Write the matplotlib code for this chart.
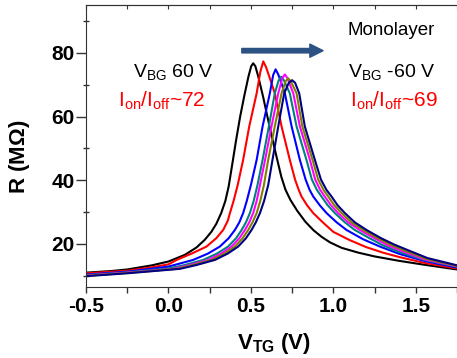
import matplotlib
matplotlib.use('Agg')
import matplotlib.pyplot as plt
from matplotlib.ticker import MultipleLocator

plt.rcParams['font.family'] = 'Liberation Sans'
plt.rcParams['mathtext.fontset'] = 'custom'
plt.rcParams['mathtext.rm'] = 'Liberation Sans'
plt.rcParams['mathtext.bf'] = 'Liberation Sans:bold'
plt.rcParams['axes.unicode_minus'] = False

# R (MOhm) vs top gate voltage, one trace per back gate voltage (60 V ... -60 V)
v_black = [-0.5, -0.35, -0.25, -0.1, 0.0, 0.1, 0.17, 0.22, 0.26, 0.29, 0.32, 0.345, 0.365,
           0.387, 0.41, 0.435, 0.46, 0.485, 0.502, 0.514, 0.527, 0.545, 0.575, 0.60, 0.63,
           0.66, 0.685, 0.71, 0.74, 0.78, 0.83, 0.88, 0.93, 0.98, 1.05, 1.15, 1.25, 1.4,
           1.55, 1.75]
r_black = [11.0, 11.5, 12.0, 13.3, 14.5, 16.6, 18.9, 21.3, 23.8, 26.3, 29.7, 33.5, 38.0,
           45.0, 52.5, 60.0, 66.5, 72.5, 75.8, 76.7, 75.8, 72.5, 66.0, 60.0, 53.0,
           46.4, 41.0, 37.0, 33.8, 30.5, 27.0, 24.3, 22.2, 20.5, 18.8, 17.3, 16.1, 14.7,
           13.5, 12.0]

v_red = [-0.5, -0.25, -0.112, 0.0, 0.05, 0.15, 0.231, 0.29, 0.332, 0.36, 0.373, 0.395,
         0.42, 0.453, 0.49, 0.535, 0.557, 0.575, 0.592, 0.615, 0.645, 0.686, 0.736, 0.768,
         0.79, 0.807, 0.84, 0.878, 0.94, 1.0, 1.1, 1.2, 1.3, 1.4, 1.55, 1.75]
r_red = [10.8, 11.6, 12.6, 13.6, 15.0, 17.2, 19.2, 21.8, 24.4, 27.3, 29.7, 33.5,
         38.5, 46.4, 56.9, 67.3, 74.0, 77.3, 75.5, 72.0, 67.3, 56.9, 46.4, 40.2,
         37.0, 34.9, 32.2, 29.7, 26.6, 23.8, 21.2, 19.0, 17.3, 15.9, 14.1, 12.3]

v_blue = [-0.5, -0.25, 0.0, 0.15, 0.24, 0.312, 0.365, 0.403, 0.43, 0.453, 0.475, 0.50,
          0.535, 0.571, 0.615, 0.635, 0.65, 0.666, 0.685, 0.706, 0.747, 0.797, 0.832, 0.856,
          0.878, 0.92, 0.959, 1.02, 1.08, 1.18, 1.282, 1.4, 1.55, 1.75]
r_blue = [10.4, 11.3, 12.9, 15.0, 17.0, 19.2, 21.8, 24.4, 26.8, 29.7, 33.5, 38.5,
          46.4, 56.9, 67.3, 73.0, 74.8, 73.2, 70.5, 67.3, 56.9, 46.4, 40.2, 37.0,
          34.9, 32.0, 29.7, 26.8, 24.4, 21.5, 19.2, 16.9, 14.7, 12.6]

v_teal = [-0.5, -0.25, 0.0, 0.1, 0.211, 0.295, 0.362, 0.41, 0.444, 0.47, 0.494, 0.517,
          0.54, 0.571, 0.609, 0.645, 0.668, 0.684, 0.70, 0.736, 0.777, 0.837, 0.87, 0.9,
          0.928, 0.965, 1.009, 1.07, 1.13, 1.22, 1.3, 1.4, 1.55, 1.75]
r_teal = [10.2, 11.1, 12.3, 13.4, 15.0, 17.0, 19.2, 21.8, 24.4, 26.8, 29.7, 33.5,
          38.5, 46.4, 56.9, 67.3, 71.3, 72.5, 71.4, 67.3, 56.9, 46.4, 40.2, 37.0,
          34.9, 32.2, 29.7, 26.8, 24.4, 21.8, 19.6, 17.5, 15.0, 12.9]

v_magenta = [-0.5, -0.25, 0.029, 0.13, 0.241, 0.32, 0.383, 0.43, 0.464, 0.49, 0.514, 0.535,
             0.555, 0.586, 0.625, 0.666, 0.69, 0.706, 0.722, 0.757, 0.797, 0.858, 0.89, 0.92,
             0.948, 0.985, 1.029, 1.09, 1.16, 1.25, 1.33, 1.42, 1.55, 1.75]
r_magenta = [10.1, 11.0, 12.2, 13.4, 15.0, 17.0, 19.2, 21.8, 24.4, 26.8, 29.7, 33.5,
             38.5, 46.4, 56.9, 67.3, 72.0, 73.2, 72.0, 67.3, 56.9, 46.4, 40.2, 37.0,
             34.9, 32.2, 29.7, 26.8, 24.4, 21.8, 19.6, 17.7, 15.2, 13.0]

v_olive = [-0.5, -0.25, 0.05, 0.15, 0.262, 0.34, 0.403, 0.45, 0.484, 0.51, 0.535, 0.557,
           0.579, 0.605, 0.645, 0.686, 0.71, 0.726, 0.743, 0.777, 0.812, 0.874, 0.908, 0.94,
           0.969, 1.005, 1.05, 1.11, 1.181, 1.27, 1.35, 1.44, 1.56, 1.75]
r_olive = [10.0, 10.9, 12.2, 13.4, 15.0, 17.0, 19.2, 21.8, 24.4, 26.8, 29.7, 33.5,
           38.5, 46.4, 56.9, 67.3, 71.0, 72.0, 71.0, 67.3, 56.9, 46.4, 40.2, 37.0,
           34.9, 32.2, 29.7, 26.8, 24.4, 21.8, 19.7, 17.8, 15.4, 13.1]

v_navy = [-0.5, -0.25, 0.07, 0.17, 0.282, 0.36, 0.423, 0.47, 0.504, 0.53, 0.555, 0.58,
          0.605, 0.631, 0.666, 0.702, 0.73, 0.75, 0.768, 0.793, 0.827, 0.888, 0.925, 0.958,
          0.989, 1.025, 1.07, 1.13, 1.201, 1.29, 1.37, 1.46, 1.57, 1.75]
r_navy = [9.9, 10.8, 12.2, 13.4, 15.0, 17.0, 19.2, 21.8, 24.4, 26.8, 29.7, 33.5,
          38.5, 46.4, 56.9, 67.3, 70.6, 71.4, 70.6, 67.3, 56.9, 46.4, 40.2, 37.0,
          34.9, 32.2, 29.7, 26.8, 24.4, 21.8, 19.8, 17.9, 15.6, 13.3]

curves = [(v_black, r_black, 'black'), (v_red, r_red, 'red'), (v_blue, r_blue, 'blue'),
          (v_teal, r_teal, '#008080'), (v_magenta, r_magenta, 'magenta'),
          (v_olive, r_olive, '#808000'), (v_navy, r_navy, '#000080')]

fig = plt.figure(figsize=(4.57, 3.58), dpi=100)
ax = fig.add_axes([86 / 457, 71 / 358, 371 / 457, 282 / 358])

for v, r, c in curves:
    ax.plot(v, r, color=c, lw=1.5)

ax.set_xlim(-0.5, 1.75)
ax.set_ylim(6.5, 95)
ax.xaxis.set_major_locator(MultipleLocator(0.5))
ax.xaxis.set_minor_locator(MultipleLocator(0.25))
ax.yaxis.set_major_locator(MultipleLocator(20))
ax.yaxis.set_minor_locator(MultipleLocator(10))
ax.set_yticks([20, 40, 60, 80])

ax.tick_params(axis='x', which='both', direction='out', length=4, width=1, pad=3,
               labelsize=15, color='#333333')
ax.tick_params(axis='y', which='major', direction='out', length=7, width=1, pad=1,
               labelsize=15, color='#333333')
ax.tick_params(axis='y', which='minor', direction='inout', length=4, width=1, color='#333333')
for lab in ax.get_xticklabels() + ax.get_yticklabels():
    lab.set_fontweight('bold')

for s in ['left', 'bottom', 'top']:
    ax.spines[s].set_color('#333333')
ax.spines['right'].set_visible(False)

top = ax.secondary_xaxis('top')
top.xaxis.set_major_locator(MultipleLocator(0.25))
top.tick_params(direction='in', length=3, labeltop=False, color='#333333')
top.spines['top'].set_color('#333333')

ax.set_xlabel(r'$\mathbf{V_{TG}}$ (V)', fontsize=16, fontweight='bold')
ax.xaxis.set_label_coords(0.507, -0.155)
ax.set_ylabel(r'R (M$\mathbf{\Omega}$)', fontsize=16, fontweight='bold')
ax.yaxis.set_label_coords(-0.145, 0.46)

ax.text(0.706, 0.911, 'Monolayer', transform=ax.transAxes, fontsize=13.5,
        ha='left', va='center')
ax.text(0.127, 0.741, r'V$_{\mathrm{BG}}$ 60 V', transform=ax.transAxes, fontsize=14,
        ha='left', va='baseline')
ax.text(0.086, 0.642, r'I$_{\mathrm{on}}$/I$_{\mathrm{off}}$~72', transform=ax.transAxes,
        fontsize=15, color='red', ha='left', va='baseline')
ax.text(0.706, 0.741, r'V$_{\mathrm{BG}}$ -60 V', transform=ax.transAxes, fontsize=14,
        ha='left', va='baseline')
ax.text(0.712, 0.642, r'I$_{\mathrm{on}}$/I$_{\mathrm{off}}$~69', transform=ax.transAxes,
        fontsize=15, color='red', ha='left', va='baseline')

ax.annotate('', xy=(0.639, 0.838), xytext=(0.42, 0.838), xycoords='axes fraction',
            arrowprops=dict(arrowstyle='simple,head_length=0.95,head_width=0.95,tail_width=0.32',
                            mutation_scale=10, color='#2B5283', shrinkA=0, shrinkB=0))

fig.savefig('out.png', dpi=100)
